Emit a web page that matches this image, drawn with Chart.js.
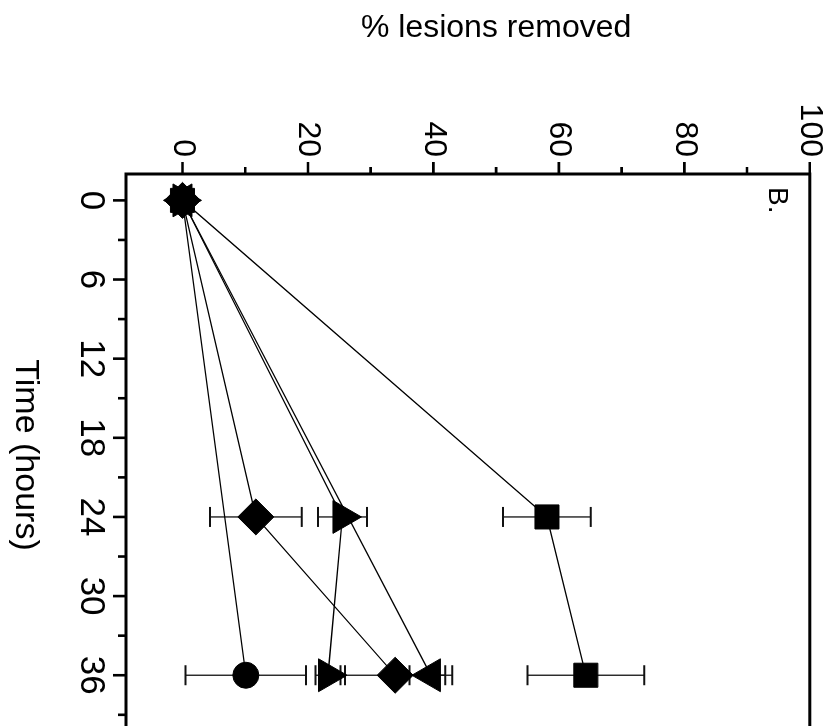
<!DOCTYPE html>
<html>
<head>
<meta charset="utf-8">
<script src="https://cdn.jsdelivr.net/npm/chart.js@4.4.1/dist/chart.umd.min.js"></script>
<style>
  html, body { margin: 0; padding: 0; background: #fff; }
  #view { width: 834px; height: 726px; overflow: hidden; position: relative; background: #fff; }
  /* the plot is laid out upright, then turned a quarter turn clockwise */
  #turn { position: absolute; left: 0; top: 0; width: 760px; height: 834px;
          transform-origin: 0 0; transform: translateX(834px) rotate(90deg); }
</style>
</head>
<body>
<div id="view">
  <div id="turn"><canvas id="repair" width="760" height="834"></canvas></div>
</div>
<script>
// sampling times (hours)
const hours = [0, 24, 36];
const hoursNo24 = [0, 36];

// % lesions removed, with +/- error
const squareVals = [0, 58.1, 64.3];
const squareErr = [0, 7.0, 9.3];
const diamondVals = [0, 11.7, 33.9];
const diamondErr = [0, 7.3, 8.0];
const triUpVals = [0, 25.5, 23.2];
const triUpErr = [0, 3.9, 2.0];
const triDownVals = [0, 39.6];
const triDownErr = [0, 3.4];
const circleVals = [0, 10.1];
const circleErr = [0, 9.6];

// axis ticks
const timeTicks = [0, 6, 12, 18, 24, 30, 36];
const timeMinor = [3, 9, 15, 21, 27, 33, 39];
const pctTicks = [0, 20, 40, 60, 80, 100];
const pctMinor = [10, 30, 50, 70, 90];

const FONT = '"Liberation Sans", Arial, Helvetica, sans-serif';
Chart.defaults.font.family = FONT;
Chart.defaults.color = '#000';

function pts(xs, ys) {
  return xs.map((x, i) => ({ x: x, y: ys[i] }));
}

function series(xs, ys, errs, style, radius, rotation) {
  return {
    data: pts(xs, ys),
    errors: errs,
    showLine: true,
    borderColor: '#000',
    borderWidth: 1.3,
    pointStyle: style,
    pointRadius: radius,
    pointRotation: rotation || 0,
    pointBackgroundColor: '#000',
    pointBorderColor: '#000',
    pointBorderWidth: 1,
    tension: 0
  };
}

// vertical error bars with caps, under the markers
const errorBars = {
  id: 'errorBars',
  beforeDatasetsDraw(chart) {
    const { ctx, scales: { x, y } } = chart;
    ctx.save();
    ctx.strokeStyle = '#111';
    chart.data.datasets.forEach(ds => {
      ds.data.forEach((p, i) => {
        const e = ds.errors[i];
        if (!e) return;
        const px = x.getPixelForValue(p.x);
        const lo = y.getPixelForValue(p.y - e);
        const hi = y.getPixelForValue(p.y + e);
        ctx.lineWidth = 1.3;
        ctx.beginPath();
        ctx.moveTo(px, lo);
        ctx.lineTo(px, hi);
        ctx.stroke();
        ctx.lineWidth = 2;
        ctx.beginPath();
        ctx.moveTo(px - 10, lo); ctx.lineTo(px + 10, lo);
        ctx.moveTo(px - 10, hi); ctx.lineTo(px + 10, hi);
        ctx.stroke();
      });
    });
    ctx.restore();
  }
};

// box, outward tick marks, panel letter and axis titles
const frame = {
  id: 'frame',
  afterDraw(chart) {
    const { ctx, chartArea: a, scales: { x, y } } = chart;
    ctx.save();
    ctx.strokeStyle = '#000';
    ctx.lineWidth = 3;
    ctx.strokeRect(a.left, a.top, a.right - a.left, a.bottom - a.top);

    ctx.lineWidth = 2.6;
    ctx.beginPath();
    timeTicks.forEach(t => {
      const p = x.getPixelForValue(t);
      ctx.moveTo(p, a.bottom); ctx.lineTo(p, a.bottom + 13);
    });
    timeMinor.forEach(t => {
      const p = x.getPixelForValue(t);
      ctx.moveTo(p, a.bottom); ctx.lineTo(p, a.bottom + 8);
    });
    pctTicks.forEach(v => {
      const p = y.getPixelForValue(v);
      ctx.moveTo(a.left, p); ctx.lineTo(a.left - 12, p);
    });
    pctMinor.forEach(v => {
      const p = y.getPixelForValue(v);
      ctx.moveTo(a.left, p); ctx.lineTo(a.left - 7, p);
    });
    ctx.stroke();

    ctx.fillStyle = '#000';
    ctx.textBaseline = 'alphabetic';
    ctx.textAlign = 'left';
    ctx.font = '28px ' + FONT;
    ctx.fillText('B.', a.left + 13, a.top + 41);

    ctx.textAlign = 'center';
    ctx.font = '34px ' + FONT;
    ctx.fillText('Time (hours)', (a.left + a.right) / 2 + 4, a.bottom + 110);

    const mid = (y.getPixelForValue(pctTicks[0]) + y.getPixelForValue(pctTicks[pctTicks.length - 1])) / 2;
    ctx.translate(37, mid);
    ctx.rotate(-Math.PI / 2);
    ctx.font = '32px ' + FONT;
    ctx.fillText('% lesions removed', 0, 0);
    ctx.restore();
  }
};

new Chart(document.getElementById('repair'), {
  type: 'scatter',
  data: {
    datasets: [
      series(hours, squareVals, squareErr, 'rect', 17),
      series(hours, diamondVals, diamondErr, 'rectRot', 18),
      series(hours, triUpVals, triUpErr, 'triangle', 19),
      series(hoursNo24, triDownVals, triDownErr, 'triangle', 19, 180),
      series(hoursNo24, circleVals, circleErr, 'circle', 13)
    ]
  },
  options: {
    responsive: false,
    animation: false,
    layout: { padding: { left: 0, right: 32, top: 20.5, bottom: 0 } },
    plugins: { legend: { display: false }, tooltip: { enabled: false } },
    scales: {
      x: {
        type: 'linear',
        position: 'bottom',
        min: -2,
        max: 40,
        afterBuildTicks: s => { s.ticks = timeTicks.map(v => ({ value: v })); },
        afterFit: s => { s.height = 126; },
        ticks: { font: { size: 35 }, color: '#000', padding: 1, autoSkip: false, maxRotation: 0, minRotation: 0 },
        grid: { color: 'rgba(0,0,0,0)', tickColor: 'rgba(0,0,0,0)', drawOnChartArea: false, tickLength: 13 },
        border: { display: false }
      },
      y: {
        type: 'linear',
        min: -9,
        max: 100,
        afterBuildTicks: s => { s.ticks = pctTicks.map(v => ({ value: v })); },
        afterFit: s => { s.width = 174; },
        ticks: { font: { size: 32 }, color: '#000', padding: 5 },
        grid: { color: 'rgba(0,0,0,0)', tickColor: 'rgba(0,0,0,0)', drawOnChartArea: false, tickLength: 12 },
        border: { display: false }
      }
    }
  },
  plugins: [errorBars, frame]
});
</script>
</body>
</html>
